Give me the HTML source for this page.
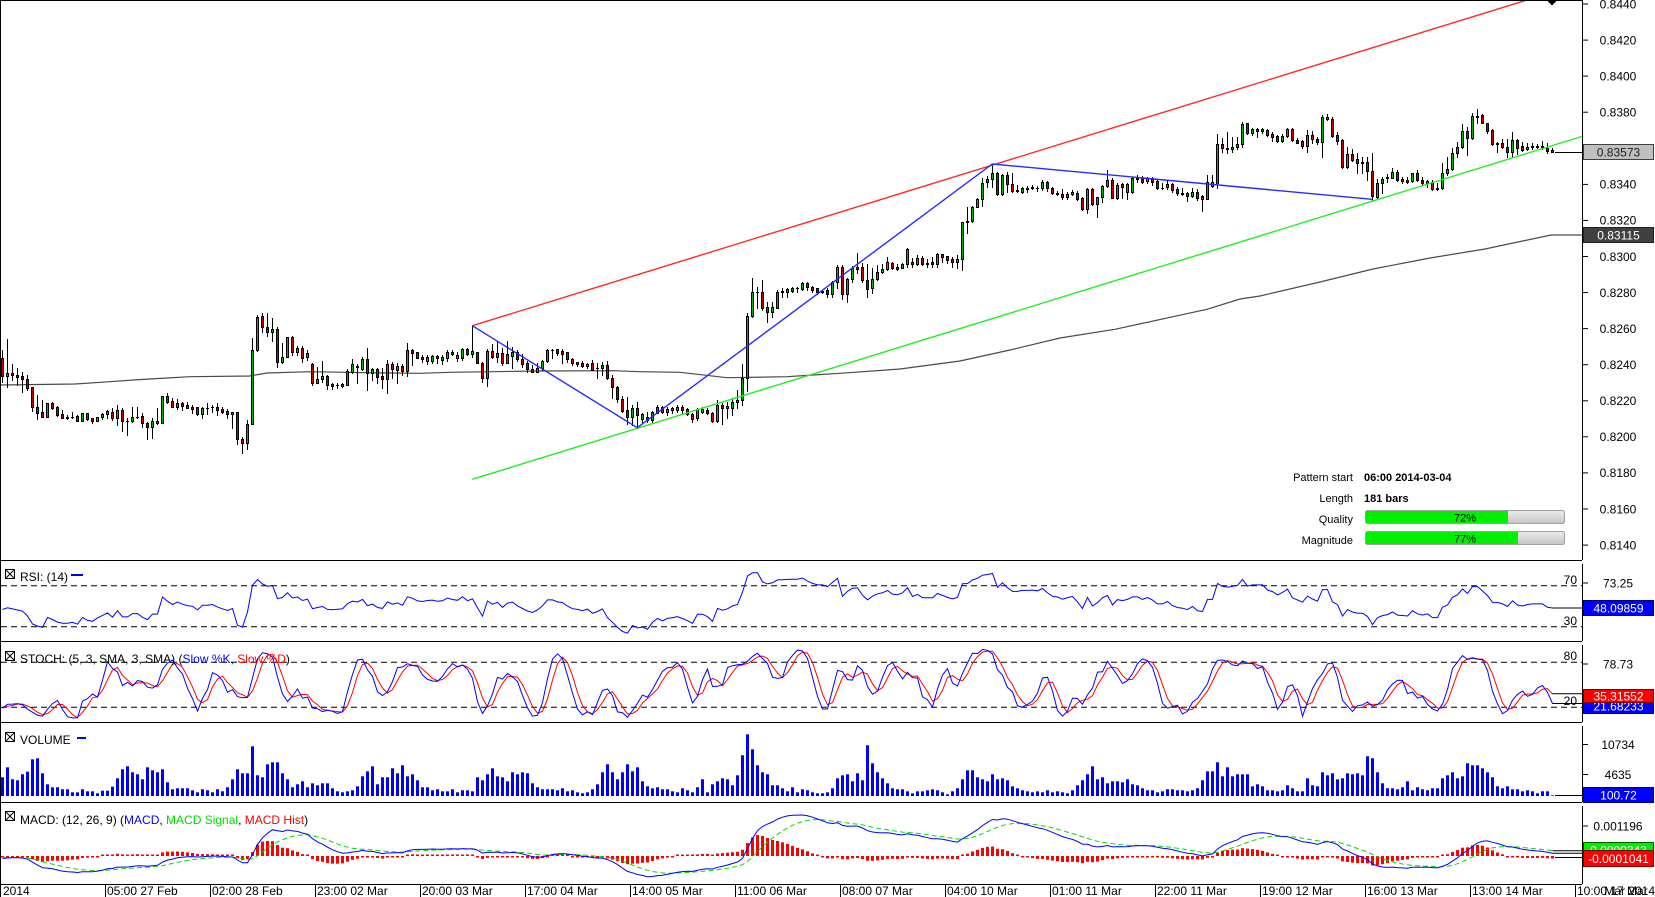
<!DOCTYPE html>
<html><head><meta charset="utf-8">
<style>
html,body{margin:0;padding:0;background:#fff;}
svg{display:block;font-family:"Liberation Sans",Arial,sans-serif;}
</style></head><body>
<svg id="s" width="1655" height="897" viewBox="0 0 1655 897" xmlns="http://www.w3.org/2000/svg">
<defs>
<clipPath id="cm"><rect x="1" y="1" width="1581" height="559"/></clipPath>
<clipPath id="cr"><rect x="1" y="561" width="1581" height="80"/></clipPath>
<clipPath id="cs"><rect x="1" y="642" width="1581" height="80"/></clipPath>
<clipPath id="cv"><rect x="1" y="723" width="1581" height="79"/></clipPath>
<clipPath id="cd"><rect x="1" y="803" width="1581" height="81"/></clipPath>
<linearGradient id="gg" x1="0" y1="0" x2="0" y2="1"><stop offset="0" stop-color="#ececec"/><stop offset="1" stop-color="#c4c4c4"/></linearGradient>
</defs>
<rect width="1655" height="897" fill="#fff"/>

<!-- MA line -->
<polyline clip-path="url(#cm)" fill="none" stroke="#4a4a4a" stroke-width="1.2" points="0,385 75,384 110,381.7 133,380 167,378 190,376.7 250,376 267,373 310,371.7 367,372.7 420,373.3 450,372.3 540,371 613,370.7 640,371.7 680,372.3 727,377.7 787,376.7 813,375 840,373.3 900,369 960,361 1010,350 1060,338 1115,329.3 1173,316.7 1207,309.3 1240,299 1260,296 1320,282 1373,269 1430,258 1485,249 1551,235 1582,235"/>

<g id="cand" clip-path="url(#cm)"></g>

<!-- pattern lines -->
<g clip-path="url(#cm)" fill="none" stroke-width="1.4">
<line x1="472.3" y1="325.7" x2="1527" y2="0" stroke="#ff2a2a"/>
<line x1="472.3" y1="479.3" x2="1582" y2="136.4" stroke="#22ee22"/>
<polyline points="472.3,325.7 637.3,427.7 992.3,164 1372.3,199.3" stroke="#2a2aff"/>
</g>
<line x1="1555" y1="152.5" x2="1582" y2="152.5" stroke="#000" stroke-width="1"/>
<polygon points="1546.5,0 1557.5,0 1552,5.5" fill="#000"/>

<!-- pattern info -->
<g font-size="11" fill="#000">
<text x="1353" y="481" text-anchor="end">Pattern start</text>
<text x="1364" y="481" font-weight="bold">06:00 2014-03-04</text>
<text x="1353" y="502" text-anchor="end">Length</text>
<text x="1364" y="502" font-weight="bold">181 bars</text>
<text x="1353" y="523" text-anchor="end">Quality</text>
<text x="1353" y="544" text-anchor="end">Magnitude</text>
</g>
<rect x="1365.5" y="510.5" width="199" height="13" rx="2" fill="url(#gg)" stroke="#a0a0a0"/>
<rect x="1366" y="511" width="142" height="12" fill="#00ee00"/>
<text x="1465" y="521.5" font-size="11" text-anchor="middle" fill="#000">72%</text>
<rect x="1365.5" y="531.5" width="199" height="13" rx="2" fill="url(#gg)" stroke="#a0a0a0"/>
<rect x="1366" y="532" width="152" height="12" fill="#00ee00"/>
<text x="1465" y="542.5" font-size="11" text-anchor="middle" fill="#000">77%</text>

<!-- indicator dashed levels -->
<g stroke="#000" stroke-width="1" stroke-dasharray="6,4">
<line x1="1" y1="585.7" x2="1582" y2="585.7"/>
<line x1="1" y1="626.7" x2="1582" y2="626.7"/>
<line x1="1" y1="662.3" x2="1582" y2="662.3"/>
<line x1="1" y1="707.3" x2="1582" y2="707.3"/>
</g>
<g font-size="12" fill="#000" text-anchor="end">
<text x="1577" y="584">70</text>
<text x="1577" y="625">30</text>
<text x="1577" y="660">80</text>
<text x="1577" y="705">20</text>
</g>

<g id="ind"></g>

<!-- frame -->
<g stroke="#000" stroke-width="1" fill="none">
<line x1="0.5" y1="0" x2="0.5" y2="897"/>
<line x1="0" y1="0.5" x2="1582" y2="0.5"/>
<line x1="0" y1="560.5" x2="1582" y2="560.5"/>
<line x1="0" y1="641.5" x2="1582" y2="641.5"/>
<line x1="0" y1="722.5" x2="1582" y2="722.5"/>
<line x1="0" y1="802.5" x2="1582" y2="802.5"/>
<line x1="0" y1="884.5" x2="1582" y2="884.5"/>
<line x1="1582.5" y1="0" x2="1582.5" y2="560"/>
<line x1="1582.5" y1="564" x2="1582.5" y2="641"/>
<line x1="1582.5" y1="645" x2="1582.5" y2="722"/>
<line x1="1582.5" y1="726" x2="1582.5" y2="802"/>
<line x1="1582.5" y1="806" x2="1582.5" y2="884"/>
</g>

<!-- panel headers -->
<g stroke="#000" stroke-width="1" fill="#fff">
<rect x="5.5" y="569.5" width="9" height="9"/><path d="M5.5,569.5L14.5,578.5M14.5,569.5L5.5,578.5"/>
<rect x="5.5" y="651.5" width="9" height="9"/><path d="M5.5,651.5L14.5,660.5M14.5,651.5L5.5,660.5"/>
<rect x="5.5" y="732.5" width="9" height="9"/><path d="M5.5,732.5L14.5,741.5M14.5,732.5L5.5,741.5"/>
<rect x="5.5" y="811.5" width="9" height="9"/><path d="M5.5,811.5L14.5,820.5M14.5,811.5L5.5,820.5"/>
</g>
<g font-size="12" fill="#000">
<text x="20" y="581">RSI: (14)</text>
<text x="20" y="663">STOCH: (5, 3, SMA, 3, SMA) (<tspan fill="#0000ff">Slow %K</tspan>, <tspan fill="#ff0000">Slow %D</tspan>)</text>
<text x="20" y="744">VOLUME</text>
<text x="20" y="824">MACD: (12, 26, 9) (<tspan fill="#0000ff">MACD</tspan>, <tspan fill="#00dd00">MACD Signal</tspan>, <tspan fill="#ff0000">MACD Hist</tspan>)</text>
</g>
<rect x="71" y="574" width="12" height="2" fill="#0000ff"/>
<rect x="77" y="737" width="9" height="2" fill="#0000ff"/>

<!-- right axis ticks -->
<g stroke="#000" stroke-width="1">
<line x1="1582" y1="4" x2="1588" y2="4"/><line x1="1582" y1="40.1" x2="1588" y2="40.1"/><line x1="1582" y1="76.1" x2="1588" y2="76.1"/><line x1="1582" y1="112.2" x2="1588" y2="112.2"/><line x1="1582" y1="148.3" x2="1588" y2="148.3"/><line x1="1582" y1="184.4" x2="1588" y2="184.4"/><line x1="1582" y1="220.4" x2="1588" y2="220.4"/><line x1="1582" y1="256.5" x2="1588" y2="256.5"/><line x1="1582" y1="292.6" x2="1588" y2="292.6"/><line x1="1582" y1="328.6" x2="1588" y2="328.6"/><line x1="1582" y1="364.7" x2="1588" y2="364.7"/><line x1="1582" y1="400.8" x2="1588" y2="400.8"/><line x1="1582" y1="436.8" x2="1588" y2="436.8"/><line x1="1582" y1="472.9" x2="1588" y2="472.9"/><line x1="1582" y1="509" x2="1588" y2="509"/><line x1="1582" y1="545.1" x2="1588" y2="545.1"/>
<line x1="1582" y1="583" x2="1588" y2="583"/>
<line x1="1582" y1="664" x2="1588" y2="664"/>
<line x1="1582" y1="744.5" x2="1588" y2="744.5"/>
<line x1="1582" y1="774.5" x2="1588" y2="774.5"/>
<line x1="1582" y1="826" x2="1588" y2="826"/>
</g>
<g font-size="12" fill="#000" text-anchor="middle">
<text x="1618" y="8.3">0.8440</text>
<text x="1618" y="44.4">0.8420</text>
<text x="1618" y="80.4">0.8400</text>
<text x="1618" y="116.5">0.8380</text>
<text x="1618" y="152.6">0.8360</text>
<text x="1618" y="188.7">0.8340</text>
<text x="1618" y="224.7">0.8320</text>
<text x="1618" y="260.8">0.8300</text>
<text x="1618" y="296.9">0.8280</text>
<text x="1618" y="332.9">0.8260</text>
<text x="1618" y="369">0.8240</text>
<text x="1618" y="405.1">0.8220</text>
<text x="1618" y="441.1">0.8200</text>
<text x="1618" y="477.2">0.8180</text>
<text x="1618" y="513.3">0.8160</text>
<text x="1618" y="549.4">0.8140</text>
<text x="1618" y="587.3">73.25</text>
<text x="1618" y="668.3">78.73</text>
<text x="1618" y="749">10734</text>
<text x="1618" y="779">4635</text>
<text x="1618" y="830.3">0.001196</text>
</g>

<!-- value boxes -->
<g font-size="12" text-anchor="middle">
<rect x="1583.5" y="144.5" width="70" height="15" fill="#c0c0c0" stroke="#404040"/>
<text x="1618.5" y="156.5" fill="#202020">0.83573</text>
<rect x="1583.5" y="227.5" width="70" height="15" fill="#404040" stroke="#202020"/>
<text x="1618.5" y="239.5" fill="#fff">0.83115</text>
<rect x="1583.5" y="600.5" width="70" height="15" fill="#0000ff" stroke="#000080"/>
<text x="1618.5" y="612.5" fill="#fff">48.09859</text>
<rect x="1583.5" y="698.5" width="70" height="15" fill="#0000ff" stroke="#000080"/>
<text x="1618.5" y="710.5" fill="#fff">21.68233</text>
<rect x="1583.5" y="689.5" width="70" height="13" fill="#ff0000" stroke="#800000"/>
<text x="1618.5" y="700.5" fill="#fff">35.31552</text>
<rect x="1583.5" y="787.5" width="70" height="15" fill="#0000ff" stroke="#000080"/>
<text x="1618.5" y="799.5" fill="#fff">100.72</text>
<rect x="1583.5" y="842.5" width="70" height="15" fill="#00ee00" stroke="#006000"/>
<text x="1618.5" y="854.5" fill="#fff">0.0000343</text>
<rect x="1583.5" y="850.5" width="70" height="16" fill="#ff0000" stroke="#800000"/>
<text x="1618.5" y="863" fill="#fff">-0.0001041</text>
</g>

<!-- date axis -->
<g stroke="#000" stroke-width="1">
<line x1="105.5" y1="885" x2="105.5" y2="897"/><line x1="210.5" y1="885" x2="210.5" y2="897"/><line x1="315.5" y1="885" x2="315.5" y2="897"/><line x1="420.5" y1="885" x2="420.5" y2="897"/><line x1="525.5" y1="885" x2="525.5" y2="897"/><line x1="630.5" y1="885" x2="630.5" y2="897"/><line x1="735.5" y1="885" x2="735.5" y2="897"/><line x1="840.5" y1="885" x2="840.5" y2="897"/><line x1="945.5" y1="885" x2="945.5" y2="897"/><line x1="1050.5" y1="885" x2="1050.5" y2="897"/><line x1="1155.5" y1="885" x2="1155.5" y2="897"/><line x1="1260.5" y1="885" x2="1260.5" y2="897"/><line x1="1365.5" y1="885" x2="1365.5" y2="897"/><line x1="1470.5" y1="885" x2="1470.5" y2="897"/><line x1="1575.5" y1="885" x2="1575.5" y2="897"/>
</g>
<g font-size="12" fill="#000">
<text x="3" y="895">2014</text>
<text x="107" y="895">05:00 27 Feb</text>
<text x="212" y="895">02:00 28 Feb</text>
<text x="317" y="895">23:00 02 Mar</text>
<text x="422" y="895">20:00 03 Mar</text>
<text x="527" y="895">17:00 04 Mar</text>
<text x="632" y="895">14:00 05 Mar</text>
<text x="737" y="895">11:00 06 Mar</text>
<text x="842" y="895">08:00 07 Mar</text>
<text x="947" y="895">04:00 10 Mar</text>
<text x="1052" y="895">01:00 11 Mar</text>
<text x="1157" y="895">22:00 11 Mar</text>
<text x="1262" y="895">19:00 12 Mar</text>
<text x="1367" y="895">16:00 13 Mar</text>
<text x="1472" y="895">13:00 14 Mar</text>
<text x="1577" y="895">10:00 17 Mar</text>
<text x="1655" y="895" text-anchor="end">Mar 2014</text>
</g>
</svg>
<script>
(function(){
var S="r358,376,350,382 g373,376,339,387 r373,375,364,380 r375,377,368,385 r376,379,372,392 r379,388,375,390 r387,407,387,411 r407,413,395,419 r412,417,400,417 g403,417,403,417 "+
"r403,408,402,409 r407,415,406,416 r414,418,410,418 r417,418,415,419 g417,417,412,418 r416,421,415,421 g413,421,413,421 r413,419,413,420 r418,421,418,423 g417,421,417,421 "+
"g414,417,413,419 g411,414,410,418 r412,418,408,420 g410,418,405,425 r410,421,408,431 r421,421,418,435 g417,421,407,422 g417,417,407,418 r416,423,413,427 r423,427,422,439 "+
"g421,427,418,438 g421,423,408,424 g396,423,396,423 r396,402,393,403 r401,407,398,407 g403,407,399,409 r403,406,402,410 r405,408,402,408 r407,409,405,413 r407,414,407,415 "+
"g408,414,407,418 g408,408,403,414 r407,407,405,412 r407,410,403,415 r409,412,407,413 r411,414,409,418 g412,414,412,428 r412,439,412,444 r439,443,437,453 g424,443,420,449 "+
"g350,424,338,424 g317,350,315,351 r316,327,313,332 r327,332,313,336 g329,332,318,341 r329,362,327,367 g357,362,343,363 g337,357,337,357 r337,352,336,355 g348,352,346,355 "+
"r348,358,346,362 g353,357,350,360 r364,383,363,385 g379,383,367,383 g376,379,361,382 r376,385,375,389 r384,386,383,389 r385,385,383,388 g384,386,383,387 g371,385,369,385 "+
"g364,372,359,373 g366,367,364,383 g359,369,357,370 r359,373,348,390 g369,373,368,380 r369,377,368,383 r376,379,368,388 g364,379,360,393 r364,369,362,378 g366,370,363,383 "+
"r366,371,364,375 g350,371,343,376 r350,353,349,365 r352,358,352,358 "+
"r357,359,355,362 g357,361,355,364 g356,361,355,363 r356,358,355,363 g357,360,355,364 g352,358,350,361 r352,354,350,355 g355,358,352,361 g349,358,348,360 r349,354,348,355 "+
"g351,354,326,357 r352,363,352,363 r363,378,362,382 g351,378,349,386 r351,357,344,358 g353,357,341,362 r353,363,348,365 g354,363,341,363 g352,356,347,368 r352,359,350,361 "+
"r359,364,354,367 r363,369,361,372 r369,372,365,372 g368,372,363,372 g361,368,360,370 g350,361,349,362 g350,350,349,358 r349,353,349,355 r351,354,349,363 r352,359,352,362 "+
"r359,363,358,365 r362,364,362,366 r363,366,361,367 g364,366,363,368 r363,370,360,370 r368,368,363,378 g365,368,362,375 r365,378,361,379 r378,387,375,398 r387,399,386,402 "+
"r399,411,396,412 r410,417,397,424 g408,417,405,425 r408,415,402,428 g414,419,413,423 r417,420,412,422 g412,420,411,422 g407,413,405,413 r407,412,406,413 g409,412,407,415 "+
"g408,410,407,413 g407,410,405,412 r407,410,405,414 r409,414,408,415 r414,419,413,422 g409,418,408,420 g409,412,407,413 r410,413,408,414 r413,421,412,422 g405,421,400,422 "+
"r405,408,403,424 g406,408,402,418 g402,408,398,415 g400,402,390,408 g378,400,364,405 g316,378,313,391 g292,316,278,317 g292,292,287,308 r292,308,280,310 r307,312,302,322 "+
"g307,312,302,317 g292,308,290,308 g291,292,288,297 g289,292,288,297 g288,291,287,292 g288,288,287,292 g283,289,282,290 r283,287,282,290 r287,290,286,292 r288,292,288,294 "+
"r291,292,290,293 r290,294,288,297 g282,294,281,297 g267,282,265,288 "+
"r267,294,265,299 g279,294,278,302 g268,279,266,282 g267,269,253,273 r267,280,263,282 r280,289,264,297 g279,288,268,293 g272,279,265,280 g269,272,264,273 g262,269,257,270 "+
"r263,268,262,269 r267,269,264,270 g264,268,263,268 g249,264,248,267 r262,264,258,267 g258,264,255,265 r258,264,256,265 r263,264,259,267 r262,264,257,267 g254,264,253,267 "+
"r254,257,254,262 r256,260,256,263 r259,262,257,267 g259,262,255,268 g222,259,222,270 g221,222,207,233 g207,221,206,222 g199,207,198,207 g183,199,178,206 g179,182,176,187 "+
"g173,179,164,187 r173,194,172,195 g175,194,174,195 r175,184,172,192 r184,191,173,192 r190,191,185,192 g188,192,187,193 g188,189,186,192 g187,188,185,189 g188,188,186,191 "+
"g182,188,180,190 r182,188,181,191 r188,193,187,194 r193,194,191,195 r194,197,189,199 g194,197,192,199 g192,194,190,195 r193,199,191,200 r198,209,197,210 g189,209,188,213 "+
"r189,204,188,205 g197,204,197,217 g186,197,185,202 g180,186,170,187 r180,198,178,198 g185,198,183,199 r184,187,183,198 g184,192,183,199 g178,192,177,193 g178,179,175,182 "+
"r178,182,176,183 g178,181,177,183 r178,182,177,185 r181,188,180,189 r188,188,183,189 g184,187,180,189 r184,190,183,192 r189,193,187,195 r193,194,188,195 r193,196,192,201 "+
"g192,196,188,197 r192,198,189,200 r196,199,195,211 g182,199,175,199 g182,186,175,187 g144,183,134,188 r144,148,138,152 r148,149,132,153 g147,149,137,152 g144,147,137,149 "+
"g124,144,122,147 r123,133,123,134 g129,133,128,135 g129,131,128,137 "+
"g129,131,128,133 r130,135,129,136 r134,137,132,141 r136,141,135,142 g136,141,134,142 g129,136,128,137 r129,140,128,141 r140,143,138,143 r141,146,140,148 g135,146,130,152 "+
"r135,139,131,143 r139,142,137,144 g117,142,115,157 g117,119,114,120 r119,136,117,137 r135,141,132,144 r140,167,139,168 g154,167,147,168 r154,160,149,161 r159,163,153,173 "+
"r162,163,157,173 r162,171,157,180 r171,196,153,200 g183,197,179,198 g179,183,177,193 g177,178,174,182 g172,178,168,178 r172,180,170,181 r179,181,177,183 r180,182,177,183 "+
"g173,181,173,182 r173,180,170,181 r180,183,177,185 g181,183,180,187 r182,189,180,190 r188,189,183,190 g173,188,163,189 g169,173,157,175 g153,169,148,170 g147,153,142,157 "+
"g131,147,124,148 r131,138,127,155 g116,138,113,139 g116,117,109,123 r115,123,114,123 r123,131,123,133 r130,144,129,145 r143,144,142,152 r143,147,139,148 r147,152,139,157 "+
"g140,152,132,157 r140,148,139,154 r146,150,142,151 g147,149,143,150 g146,147,143,149 g146,147,144,148 g146,147,141,149 r148,151,143,153 r150,152,148,152";
var C=S.trim().split(/\s+/).map(function(t){var a=t.slice(1).split(',').map(Number);return {g:t.charAt(0)=='g',bt:a[0],bb:a[1],wt:a[2],wb:a[3]};});
var N=C.length;
function X(i){return 2.5+5*i;}
function f(v){return (Math.round(v*10)/10).toString();}
var o=[];
function R(x,y,w,h,c){o.push('<rect x="'+f(x)+'" y="'+f(y)+'" width="'+f(w)+'" height="'+f(h)+'" fill="'+c+'"/>');}
for(var i=0;i<N;i++){
  var c=C[i],x=X(i);
  var wt=Math.min(c.wt,c.bt),wb=Math.max(c.wb,c.bb);
  R(x-0.5,wt,1,wb-wt+1,'#000');
  R(x-1.5,c.bt,3,c.bb-c.bt+1,'#000');
  if(c.bb-c.bt-1>0) R(x-0.5,c.bt+1,1,c.bb-c.bt-1,c.g?'#00b400':'#c80000');
}
document.getElementById('cand').innerHTML=o.join('');

// indicators
o=[];
function yp(y){return 0.8440-(y-4)/18000;}
var cl=[],hi=[],lo=[];
for(i=0;i<N;i++){var k=C[i];cl.push(yp(k.g?k.bt:k.bb));hi.push(yp(Math.min(k.wt,k.bt)));lo.push(yp(Math.max(k.wb,k.bb)));}
// volume
var V1=[147,117,153,156,138,130,93,90,135,168,177,177,183,183,192,192,183,189,189,195,187,187,175,150,123,114,132,138,153,117,126,132,123,162,183,180,180,180,186,192,183,186,192,183,189,177,153,123,135,135,54,141,147,108,102,102,135,153,177,168,159,177,165,171,165,165,180,189,192,189,186,174,144,129,114,168,147,147,120,135,111,144,138,156,177,177,186,183,189,189,183,192,186,186,189,147,156,138,120,144,147,159,132,138,132,135,165,177,183,183,183,186,180,189,186,192,195,192,183,168,132,108,132,153,132,108,129,117,159,174,180,177,183,183,189,192,180,186,192,177,153,192,168,159,150,153,171,141,81,18,63,111,132,138,171,171,180];
var V2=[189,177,192,183,186,192,195,195,192,180,150,141,138,159,135,156,51,105,132,150,165,180,183,183,189,195,189,189,186,183,186,192,198,189,180,153,126,126,147,153,159,138,153,150,156,174,180,186,189,192,189,192,186,192,189,192,195,186,171,156,138,114,153,147,165,159,159,162,153,168,171,180,186,186,192,189,183,183,186,186,189,186,180,156,129,129,102,144,117,144,138,138,138,174,168,174,186,186,189,186,171,180,189,189,150,171,174,132,141,135,153,150,135,138,135,141,84,90,132,165,180,180,183,177,159,186,177,183,186,180,180,150,141,132,150,144,105,111,111,120,132,147,174,180,174,183,183,189,186,189,195,189,189];
var V=V1.concat(V2);
var vo=['<g clip-path="url(#cv)">'];
for(i=0;i<N;i++){var h=(i<V.length)?(203-V[i])/3:0.7; if(h<0.7)h=0.7; vo.push('<rect x="'+f(X(i)-1.5)+'" y="'+f(796-h)+'" width="3" height="'+f(h)+'" fill="#0000ff"/>');}
vo.push('</g>');
o.push(vo.join(''));
o.push('<line x1="1555" y1="795.5" x2="1582" y2="795.5" stroke="#000"/>');
// RSI
var ag=0.0002,al=0.00022,rp=[];
for(i=0;i<N;i++){var ch=i?cl[i]-cl[i-1]:-0.0001;var g=ch>0?ch:0,l=ch<0?-ch:0;ag=(ag*13+g)/14;al=(al*13+l)/14;var r=100-100/(1+ag/al);rp.push(f(X(i))+','+f(585.7+(70-r)*1.025));}
o.push('<polyline clip-path="url(#cr)" fill="none" stroke="#0000ff" stroke-width="1" points="'+rp.join(' ')+'"/>');
var lastR=rp[N-1].split(',')[1];
o.push('<line x1="'+f(X(N-1))+'" y1="'+lastR+'" x2="1582" y2="'+lastR+'" stroke="#000"/>');
// Stoch
var rk=[],sk=[],sd=[];
for(i=0;i<N;i++){var a=Math.max(0,i-4),H=-1,L=9;for(var j=a;j<=i;j++){if(hi[j]>H)H=hi[j];if(lo[j]<L)L=lo[j];}rk.push(H>L?(cl[i]-L)/(H-L)*100:50);}
function sma(arr,i,n){var s=0,m=0;for(var j=Math.max(0,i-n+1);j<=i;j++){s+=arr[j];m++;}return s/m;}
for(i=0;i<N;i++)sk.push(sma(rk,i,3));
for(i=0;i<N;i++)sd.push(sma(sk,i,3));
function sy(v){return 662.3+(80-v)*0.75;}
var pk=[],pd=[];
for(i=0;i<N;i++){pk.push(f(X(i))+','+f(sy(sk[i])));pd.push(f(X(i))+','+f(sy(sd[i])));}
o.push('<g clip-path="url(#cs)"><polyline fill="none" stroke="#ff0000" stroke-width="1" points="'+pd.join(' ')+'"/><polyline fill="none" stroke="#0000ff" stroke-width="1" points="'+pk.join(' ')+'"/></g>');
o.push('<line x1="'+f(X(N-1))+'" y1="'+f(sy(sd[N-1]))+'" x2="1582" y2="'+f(sy(sd[N-1]))+'" stroke="#000"/>');
o.push('<line x1="'+f(X(N-1))+'" y1="'+f(sy(sk[N-1]))+'" x2="1582" y2="'+f(sy(sk[N-1]))+'" stroke="#000"/>');
// MACD
var e12=cl[0],e26=cl[0]+0.0001,sg=-0.00005,mp=[],gp=[],hb=['<g clip-path="url(#cd)">'];
var Z=856,K=25000,lm=0,ls=0;
for(i=0;i<N;i++){
  if(i>0){e12+=(cl[i]-e12)*2/13;e26+=(cl[i]-e26)*2/27;}
  var m=e12-e26; if(i>0) sg+=(m-sg)*2/10;
  var hv=(m-sg)*K; var hh=Math.abs(hv); if(hh<1.5)hh=1.5;
  hb.push('<rect x="'+f(X(i)-1.5)+'" y="'+f(hv>0?Z-hh:Z)+'" width="3" height="'+f(hh)+'" fill="#ff0000"/>');
  mp.push(f(X(i))+','+f(Z-m*K)); gp.push(f(X(i))+','+f(Z-sg*K)); lm=Z-m*K; ls=Z-sg*K;
}
hb.push('<polyline fill="none" stroke="#00dd00" stroke-width="1" stroke-dasharray="5,3" points="'+gp.join(' ')+'"/>');
hb.push('<polyline fill="none" stroke="#0000ff" stroke-width="1" points="'+mp.join(' ')+'"/>');
hb.push('</g>');
o.push(hb.join(''));
o.push('<line x1="'+f(X(N-1))+'" y1="'+f(ls)+'" x2="1582" y2="'+f(ls)+'" stroke="#000"/>');
o.push('<line x1="'+f(X(N-1))+'" y1="'+f(lm)+'" x2="1582" y2="'+f(lm)+'" stroke="#000"/>');
o.push('<line x1="1555" y1="857.5" x2="1582" y2="857.5" stroke="#000"/>');
document.getElementById('ind').innerHTML=o.join('');
})();
</script>
</body></html>
